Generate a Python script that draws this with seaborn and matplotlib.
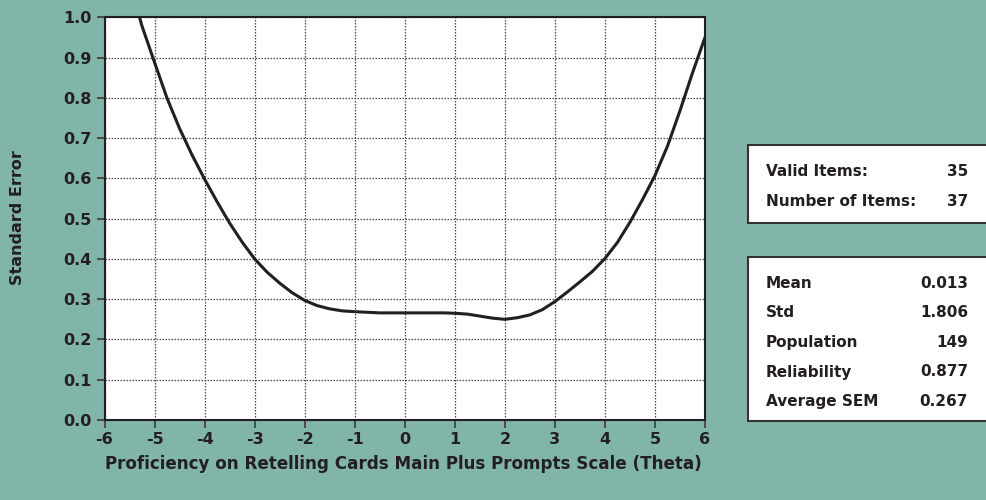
import matplotlib
matplotlib.use("Agg")
import matplotlib.pyplot as plt
from matplotlib.patches import Rectangle
import pandas as pd
import seaborn as sns

# Test information: standard error of measurement across the theta scale
theta = [-5.30, -5.25, -5.00, -4.75, -4.50, -4.25, -4.00, -3.75, -3.50, -3.25,
         -3.00, -2.75, -2.50, -2.25, -2.00, -1.75, -1.50, -1.25, -1.00, -0.50,
         0.00, 0.50, 0.80, 1.00, 1.25, 1.50, 1.75, 2.00, 2.25, 2.50,
         2.75, 3.00, 3.25, 3.50, 3.75, 4.00, 4.25, 4.50, 4.75, 5.00,
         5.25, 5.50, 5.75, 6.00]
std_error = [1.000, 0.978, 0.888, 0.799, 0.724, 0.658, 0.598, 0.542, 0.489, 0.442,
             0.400, 0.367, 0.340, 0.316, 0.297, 0.284, 0.276, 0.271, 0.269, 0.266,
             0.266, 0.266, 0.266, 0.265, 0.263, 0.258, 0.253, 0.250, 0.254, 0.261,
             0.274, 0.294, 0.318, 0.343, 0.369, 0.401, 0.441, 0.491, 0.547, 0.607,
             0.680, 0.768, 0.862, 0.950]

x_ticks = [-6, -5, -4, -3, -2, -1, 0, 1, 2, 3, 4, 5, 6]
x_tick_labels = ["-6", "-5", "-4", "-3", "-2", "-1", "0", "1", "2", "3", "4", "5", "6"]
y_ticks = [0.0, 0.1, 0.2, 0.3, 0.4, 0.5, 0.6, 0.7, 0.8, 0.9, 1.0]
y_tick_labels = ["0.0", "0.1", "0.2", "0.3", "0.4", "0.5", "0.6", "0.7", "0.8", "0.9", "1.0"]

item_labels = ["Valid Items:", "Number of Items:"]
item_values = ["35", "37"]
stat_labels = ["Mean", "Std", "Population", "Reliability", "Average SEM"]
stat_values = ["0.013", "1.806", "149", "0.877", "0.267"]

BG = "#81b5a9"
INK = "#231f20"
GRID = "#4a4a4a"

sns.set_theme(style="white")
plt.rcParams["font.family"] = ["DejaVu Sans"]
plt.rcParams["font.weight"] = "bold"

fig = plt.figure(figsize=(9.86, 5.0), dpi=100, facecolor=BG)
ax = fig.add_axes([104.5 / 986, 1 - 420 / 500, (705 - 104.5) / 986, (420 - 17.3) / 500])
ax.set_facecolor("white")

df = pd.DataFrame({"theta": theta, "se": std_error})
sns.lineplot(data=df, x="theta", y="se", ax=ax, color=INK, linewidth=2.2, sort=False)

ax.set_xlim(-6, 6)
ax.set_ylim(0, 1.0)
ax.set_xticks(x_ticks)
ax.set_xticklabels(x_tick_labels)
ax.set_yticks(y_ticks)
ax.set_yticklabels(y_tick_labels)
ax.grid(True, linestyle=(0, (1.2, 1.2)), color=GRID, linewidth=0.9)
ax.set_axisbelow(True)
for side in ["left", "bottom", "top", "right"]:
    ax.spines[side].set_visible(True)
    ax.spines[side].set_color(INK)
    ax.spines[side].set_linewidth(1.5)
ax.tick_params(axis="both", direction="out", length=6, width=1.3, color="#444444",
               labelsize=11.5, labelcolor=INK, pad=3, left=True, bottom=True)
for lab in ax.get_xticklabels() + ax.get_yticklabels():
    lab.set_fontweight("bold")

ax.set_xlabel("")
ax.set_ylabel("")
fig.text(403 / 986, 1 - 464 / 500, "Proficiency on Retelling Cards Main Plus Prompts Scale (Theta)",
         ha="center", va="center", fontsize=12.1, fontweight="bold", color=INK)
fig.text(18 / 986, 1 - 218 / 500, "Standard Error", rotation=90,
         ha="center", va="center", fontsize=11.5, fontweight="bold", color=INK)

# Summary boxes on the right
def draw_box(y_top, y_bottom):
    fig.patches.append(Rectangle((748 / 986, 1 - y_bottom / 500), (990 - 748) / 986,
                                 (y_bottom - y_top) / 500, transform=fig.transFigure,
                                 facecolor="white", edgecolor="#333333", linewidth=1.5,
                                 zorder=1))

draw_box(145, 223)
draw_box(257, 421)

for label, value, y in zip(item_labels, item_values, [171.7, 201.7]):
    fig.text(766 / 986, 1 - y / 500, label, ha="left", va="center", fontsize=11,
             fontweight="bold", color=INK)
    fig.text(968 / 986, 1 - y / 500, value, ha="right", va="center", fontsize=11,
             fontweight="bold", color=INK)

for label, value, y in zip(stat_labels, stat_values, [283.3, 312.7, 342.3, 372, 401.5]):
    fig.text(766 / 986, 1 - y / 500, label, ha="left", va="center", fontsize=11,
             fontweight="bold", color=INK)
    fig.text(968 / 986, 1 - y / 500, value, ha="right", va="center", fontsize=11,
             fontweight="bold", color=INK)

fig.savefig("out.png", dpi=100, facecolor=BG)
